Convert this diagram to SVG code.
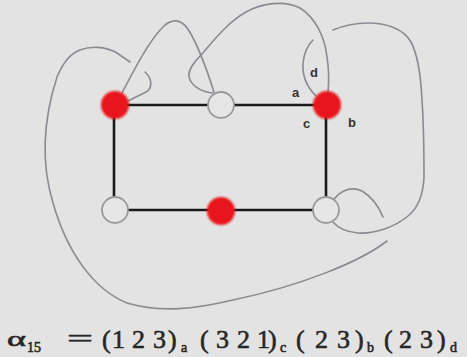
<svg xmlns="http://www.w3.org/2000/svg" width="467" height="357" viewBox="0 0 467 357">
<style>
.e{stroke:#1a1a1a;stroke-width:2.6;fill:none}
.k{stroke:#8a8a92;stroke-width:1.6;fill:none;stroke-linecap:round}
.w{fill:#e6e6e6;stroke:#9a9a9a;stroke-width:1.8}
.r{fill:#e8161c}
.lb{font-family:"Liberation Sans",Arial,sans-serif;font-size:13px;font-weight:bold;fill:#333}
.f{font-family:"Liberation Serif","Times New Roman",serif;fill:#262626;stroke:#262626;stroke-width:0.6}
.s{font-size:14px}
</style>
<defs>
<filter id="soft" x="-50%" y="-50%" width="200%" height="200%"><feGaussianBlur stdDeviation="1.2"/></filter>
</defs>
<rect width="467" height="357" fill="#e3e3e3"/>
<g id="connectors">
<line class="e" x1="114" y1="105" x2="326" y2="105"/>
<line class="e" x1="114" y1="105" x2="114" y2="210"/>
<line class="e" x1="326" y1="105" x2="326" y2="210"/>
<line class="e" x1="115" y1="210" x2="326" y2="210"/>
<path class="k" d="M333 201 C340 190 352 186 362 191 C372 197 379 207 383 217"/>
<path class="k" d="M387 241 C360 262 300 286 233 300 C195 309 160 313 127 303 C95 290 68 255 53 203 C43 170 40 130 57 77 C64 60 72 53 80 50 C90 46 105 46 117 53 L130 62"/>
<path class="k" d="M145 72 C152 78 153 88 146 92 L128 101"/>
<path class="k" d="M122 93 C133 72 148 42 163 27 C171 19 180 18 188 29 C198 45 207 70 214 92"/>
<path class="k" d="M213 93 C201 92 193 86 190 80 C186 72 193 63 202 54 C214 40 228 22 246 12 C262 3 285 0 300 8 C316 18 325 38 327 57 C329 70 329 82 328 92"/>
<path class="k" d="M316 96 C308 88 302 76 303 63 C304 53 308 45 313 40"/>
<path class="k" d="M333 30 C345 25 356 23 368 23 C385 23 403 28 411 42 C418 55 421 80 422 100 C424 130 424 160 424 178 C423 196 418 208 408 216 C395 227 375 234 358 233 C347 232 338 228 333 222"/>
</g>
<g id="n1"><circle class="r" cx="115" cy="105" r="14" filter="url(#soft)"/></g>
<g id="n2"><circle class="w" cx="221" cy="105" r="13"/></g>
<g id="n3"><circle class="r" cx="327" cy="105" r="14" filter="url(#soft)"/></g>
<g id="n4"><circle class="w" cx="115" cy="210" r="13"/></g>
<g id="n5"><circle class="r" cx="221" cy="211" r="14" filter="url(#soft)"/></g>
<g id="n6"><circle class="w" cx="326" cy="210" r="13"/></g>
<g id="labels">
<text class="lb" x="292" y="97">a</text>
<text class="lb" x="310" y="77">d</text>
<text class="lb" x="303" y="128">c</text>
<text class="lb" x="348" y="127">b</text>
</g>
<text class="f" font-size="26"><tspan x="7" y="346" font-size="22" textLength="19" lengthAdjust="spacingAndGlyphs">α</tspan><tspan class="s" x="27" y="352" font-size="15">15</tspan><tspan x="67" y="347" textLength="26" lengthAdjust="spacingAndGlyphs">=</tspan><tspan x="102 112 132 153 168" y="348">(123)</tspan><tspan class="s" x="181" y="352">a</tspan><tspan x="200 216 237 257 268" y="348">(321)</tspan><tspan class="s" x="280" y="352">c</tspan><tspan x="296 315 337 355" y="348">(23)</tspan><tspan class="s" x="367" y="352">b</tspan><tspan x="384 399 420 437" y="348">(23)</tspan><tspan class="s" x="450" y="352">d</tspan></text>
</svg>
